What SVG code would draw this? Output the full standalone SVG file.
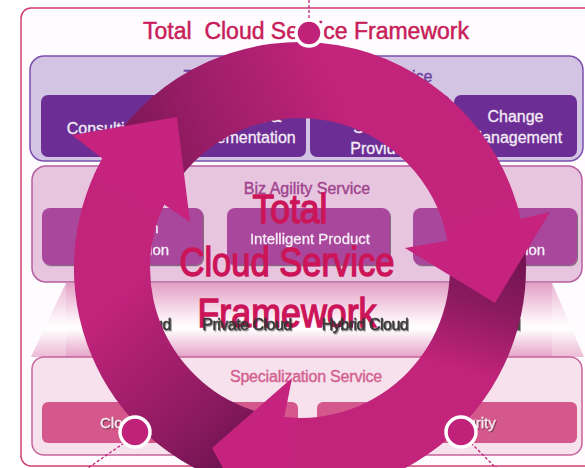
<svg xmlns="http://www.w3.org/2000/svg" width="585" height="468" viewBox="0 0 585 468">
<defs>
<style>
text{font-family:"Liberation Sans",Arial,sans-serif;}
.bandT{fill:#d4c4e4;stroke:#7c4fae;stroke-width:1.5}
.bandM{fill:#e8c5df;stroke:#b55ea0;stroke-width:1.5}
.bandB{fill:#f7e1ed;stroke:#c7639c;stroke-width:1.5}
.boxT{fill:#6c2e94}
.boxM{fill:#a9469c}
.boxB{fill:#d5588c}
.tT{fill:#f4ecf6;stroke:#f4ecf6;stroke-width:0.3;font-size:16px;text-anchor:middle}
.tM{fill:#f6eef6;stroke:#f6eef6;stroke-width:0.3;font-size:15px;text-anchor:middle}
.tB{fill:#f2e6ec;stroke:#f2e6ec;stroke-width:0.3;font-size:15px;text-anchor:middle}
.lbl{font-size:16px;text-anchor:middle;stroke-width:0.4}
.cloud{font-size:16px;text-anchor:middle;fill:#383838;stroke:#383838;stroke-width:0.5;letter-spacing:-0.5px}
.big{font-size:40px;fill:#cc1559;stroke:#cc1559;stroke-width:1.4;text-anchor:middle}
.marker{fill:#c0227a;stroke:#fff;stroke-width:3.5}
.dash{stroke:#c0227a;stroke-width:1.3;stroke-dasharray:3 2;fill:none}
.head{fill:#c5237e}
</style>
<filter id="sh" x="-10%" y="-30%" width="120%" height="160%">
<feDropShadow dx="1" dy="1.2" stdDeviation="0.7" flood-color="#000" flood-opacity="0.45"/>
</filter>
<linearGradient id="shelf" x1="0" y1="283" x2="0" y2="357" gradientUnits="userSpaceOnUse">
<stop offset="0" stop-color="#e3a0c5"/>
<stop offset="0.25" stop-color="#f0c8de"/>
<stop offset="0.5" stop-color="#fdf3f8"/>
<stop offset="0.62" stop-color="#ffffff"/>
<stop offset="0.85" stop-color="#f0c6dd"/>
<stop offset="1" stop-color="#e4a5c8"/>
</linearGradient>
<linearGradient id="gL" x1="248" y1="449" x2="115" y2="301" gradientUnits="userSpaceOnUse">
<stop offset="0" stop-color="#6f1350"/>
<stop offset="0.3" stop-color="#8c1a60"/>
<stop offset="1" stop-color="#c2237b"/>
</linearGradient>
<linearGradient id="gT" x1="140.6" y1="168.4" x2="332.6" y2="82.9" gradientUnits="userSpaceOnUse">
<stop offset="0" stop-color="#7e1656"/>
<stop offset="0.35" stop-color="#981d66"/>
<stop offset="1" stop-color="#c2237b"/>
</linearGradient>
<linearGradient id="gR" x1="486.2" y1="241.8" x2="444" y2="388.8" gradientUnits="userSpaceOnUse">
<stop offset="0" stop-color="#6f1350"/>
<stop offset="0.4" stop-color="#8a1a5e"/>
<stop offset="0.85" stop-color="#c2237b"/>
</linearGradient>
</defs>

<g id="frame">
<rect x="21" y="8" width="600" height="458" rx="10" fill="#fefcfe" stroke="#d23c74" stroke-width="1.5"/>
<text x="306" y="39" font-size="23" fill="#c81e5a" stroke="#c81e5a" stroke-width="0.5" text-anchor="middle">Total&#160; Cloud Service Framework</text>
</g>

<g id="transformation-service">
<rect class="bandT" x="30" y="56" width="553" height="105" rx="14"/>
<text class="lbl" x="308" y="82" fill="#6b3fa0" stroke="#6b3fa0">Total Cloud Transformation Service</text>
</g>
<g id="consulting"><rect class="boxT" x="41" y="95" width="127" height="62" rx="7"/><text class="tT" x="104.5" y="134">Consulting</text></g>
<g id="migration"><rect class="boxT" x="172" y="95" width="134" height="62" rx="7"/><text class="tT" x="241" y="122">Migration &amp;</text><text class="tT" x="241" y="143">Implementation</text></g>
<g id="msp"><rect class="boxT" x="310" y="95" width="140" height="62" rx="7"/><text class="tT" x="380" y="112">Managed</text><text class="tT" x="380" y="133">Service</text><text class="tT" x="380" y="154">Provider</text></g>
<g id="change-management"><rect class="boxT" x="454" y="95" width="123" height="62" rx="7"/><text class="tT" x="515.5" y="122">Change</text><text class="tT" x="515.5" y="143">Management</text></g>

<g id="biz-agility-service">
<rect class="bandM" x="32" y="166" width="550" height="116" rx="14"/>
<text class="lbl" x="307" y="194" fill="#a0448f" stroke="#a0448f">Biz Agility Service</text>
</g>
<g id="app-modernization" filter="url(#sh)"><rect class="boxM" x="42" y="208" width="161" height="57" rx="8"/><text class="tM" x="122" y="233">Application</text><text class="tM" x="122" y="255">Modernization</text></g>
<g id="intelligent-product" filter="url(#sh)"><rect class="boxM" x="227" y="208" width="163" height="57" rx="8"/><text class="tM" x="310" y="244">Intelligent Product</text></g>
<g id="digital-transformation" filter="url(#sh)"><rect class="boxM" x="413" y="208" width="164" height="57" rx="8"/><text class="tM" x="495" y="233">Digital</text><text class="tM" x="495" y="255">Transformation</text></g>

<g id="cloud-shelf">
<polygon points="66,283 552,283 584,357 31,357" fill="url(#shelf)"/>
<polygon points="66,283 66,357 31,357" fill="#fff" opacity="0.25"/>
<polygon points="552,283 552,357 584,357" fill="#fff" opacity="0.25"/>
</g>

<g id="specialization-service">
<rect class="bandB" x="32" y="357" width="550" height="98" rx="12"/>
<text class="lbl" x="306" y="382" fill="#d3608f" stroke="#d3608f" letter-spacing="-0.2">Specialization Service</text>
</g>
<g id="cloud-native"><rect class="boxB" x="42" y="402" width="256" height="41" rx="6"/><text class="tB" x="170" y="428" filter="url(#sh)">Cloud Native Service</text></g>
<g id="cloud-security"><rect class="boxB" x="317" y="402" width="260" height="41" rx="6"/><text class="tB" x="447" y="428" filter="url(#sh)">Cloud Security</text></g>

<g id="center-title">
<text class="big" x="290" y="223" textLength="75" lengthAdjust="spacingAndGlyphs">Total</text>
<text class="big" x="287" y="276" textLength="215" lengthAdjust="spacingAndGlyphs">Cloud Service</text>
<text class="big" x="287" y="327" textLength="179" lengthAdjust="spacingAndGlyphs">Framework</text>
</g>

<g id="cloud-types" filter="url(#sh)">
<text class="cloud" x="129" y="330">Public Cloud</text>
<text class="cloud" x="247" y="330">Private Cloud</text>
<text class="cloud" x="365" y="330">Hybrid Cloud</text>
<text class="cloud" x="483" y="330">Multi Cloud</text>
</g>

<g id="cycle">
<path d="M237.7 485.3 A226 226 0 0 1 102.3 158.4 L164.1 204.6 A150 150 0 0 0 258.7 412.2 Z" fill="url(#gL)"/>
<path d="M108.4 148.2 A226 226 0 0 1 520.6 219.1 L447.5 240.7 A150 150 0 0 0 172.8 188.5 Z" fill="url(#gT)"/>
<path d="M523.8 236.5 A226 226 0 0 1 264.6 491.2 L284.3 417.2 A150 150 0 0 0 448.5 247.1 Z" fill="url(#gR)"/>
<polygon class="head" points="102.3,158.4 72,135 177,117 190,222 164.1,204.6 159,216.7 93.5,176.1"/>
<polygon class="head" points="520.6,219.1 550,212 495,303 405,248 447.5,240.7 444.2,226.7 516.1,201.9"/>
<polygon class="head" points="264.6,491.2 254.5,526 212,448 292,378 284.3,417.2 297.4,418 284.2,493.5"/>
</g>

<g id="connectors">
<line class="dash" x1="309" y1="0" x2="309" y2="20"/>
<line class="dash" x1="124" y1="443" x2="88" y2="468"/>
<line class="dash" x1="471" y1="443" x2="496" y2="468"/>
</g>
<g id="marker-top"><circle class="marker" cx="309" cy="33" r="13"/></g>
<g id="marker-left"><circle class="marker" cx="135" cy="432" r="15"/></g>
<g id="marker-right"><circle class="marker" cx="461" cy="432" r="15"/></g>
</svg>
